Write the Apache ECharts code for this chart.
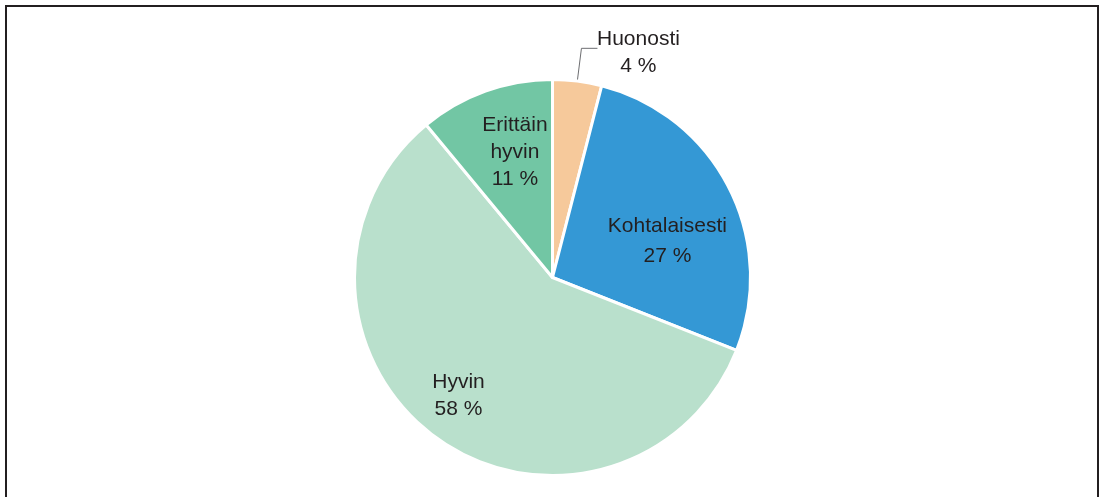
<!DOCTYPE html>
<html>
<head>
<meta charset="utf-8">
<script src="https://cdn.jsdelivr.net/npm/echarts@6/dist/echarts.min.js"></script>
<style>
  html, body { margin: 0; padding: 0; background: #fff; }
  #chart { width: 1100px; height: 497px; }
</style>
</head>
<body>
<div id="chart"></div>
<script>
// categories and values (percent), clockwise from 12 o'clock
const categories = ["Huonosti", "Kohtalaisesti", "Hyvin", "Erittäin\nhyvin"];
const values = [4, 27, 58, 11];
const colors = ["#F6C99B", "#3498D5", "#B9E0CC", "#72C6A4"];

// label nudges for the inside labels (dx, dy)
const labelShift = [[0, 0], [24, 10], [-34, 36], [-3, -29]];

const font = "'Liberation Sans Narrow', 'Arial Narrow', 'Liberation Sans', Arial, sans-serif";
const fs = 21;

const chart = echarts.init(document.getElementById("chart"));

const data = categories.map((name, i) => {
  const item = { name: name, value: values[i], itemStyle: { color: colors[i] } };
  if (i === 0) {
    // the small slice gets an outside label with a leader line
    item.label = {
      position: "outside",
      formatter: "{w|{b}}\n{w|{c} %}",
      distanceToLabelLine: 2,
      padding: [9, 0, 0, 0],
      rich: {
        w: { width: 78, align: "center", fontSize: fs, lineHeight: 27, fontFamily: font, color: "#231F20" }
      }
    };
    item.labelLine = { show: true, length: 33, length2: 16 };
  } else if (i === 1) {
    item.label = { lineHeight: 30 };
  }
  return item;
});

const option = {
  backgroundColor: "#fff",
  animation: false,
  graphic: [{
    type: "rect",
    shape: { x: 6, y: 6, width: 1092, height: 620 },
    style: { fill: "none", stroke: "#231F20", lineWidth: 2 },
    silent: true
  }],
  series: [{
    type: "pie",
    center: [552.5, 277.5],
    radius: 198,
    startAngle: 90,
    clockwise: true,
    avoidLabelOverlap: false,
    itemStyle: { borderColor: "#fff", borderWidth: 3 },
    label: {
      show: true,
      position: "inside",
      formatter: "{b}\n{c} %",
      fontSize: fs,
      lineHeight: 27,
      fontFamily: font,
      color: "#231F20"
    },
    labelLine: { show: false, lineStyle: { color: "#6D6E71", width: 1 } },
    labelLayout: function (p) {
      const s = labelShift[p.dataIndex];
      if (p.dataIndex === 0) return {};
      return { dx: s[0], dy: s[1] };
    },
    emphasis: { disabled: true },
    data: data
  }]
};

chart.setOption(option);
</script>
</body>
</html>
